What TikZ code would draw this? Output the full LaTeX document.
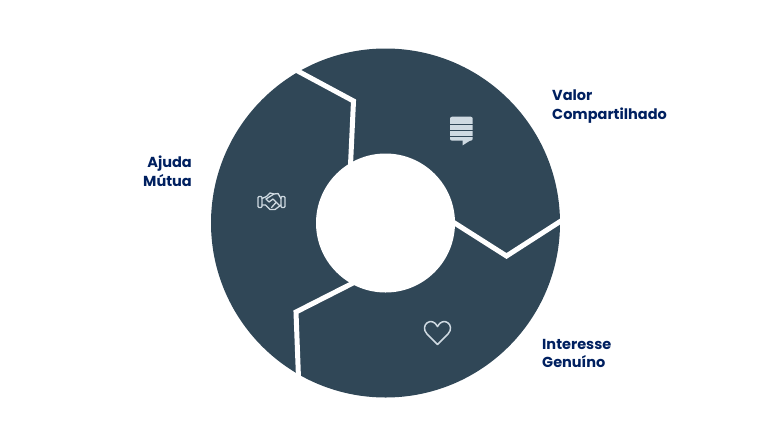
\documentclass[tikz,border=0pt]{standalone}
\usepackage{fontspec}
\usepackage{xcolor}
\setmainfont{Poppins}
\definecolor{ringblue}{HTML}{304757}
\definecolor{labelblue}{HTML}{002060}
\definecolor{iconpale}{HTML}{CFDAE2}
\def\outercircle{(385.5,223) circle (174.5)}
\def\innercircle{(385.5,223) circle (69.5)}
\tikzset{
  cycleword/.style={text=labelblue,font=\bfseries\fontsize{14.5}{18.6}\selectfont,inner sep=0pt},
  seam/.style={white,line width=5pt,miter limit=10},
  iconline/.style={iconpale,line width=1.3pt,line join=round,line cap=round}
}
\begin{document}
\begin{tikzpicture}[x=1pt,y=-1pt]
    \useasboundingbox (0,0) rectangle (768,432);
    \fill[ringblue] \outercircle;
    \fill[white] \innercircle;
    % seams between the three arrows
    \draw[seam] (294,69) -- (353.5,101) -- (350.5,165);
    \draw[seam] (453,222) -- (506.5,256) -- (564,219);
    \draw[seam] (355,282) -- (296,312) -- (298.5,378);
    % chat icon
    \fill[iconpale,rounded corners=2pt] (450,116.7) rectangle (472.7,140.7);
    \fill[iconpale] (462.7,140) -- (471,140) -- (462.7,145.3) -- cycle;
    \foreach \y in {124.3,130,136}
      \draw[ringblue,line width=0.9pt] (449,\y) -- (474,\y);
    % handshake icon
    \draw[iconline,rounded corners=1pt] (258,196.5) rectangle (262,207.5);
    \draw[iconline,rounded corners=1pt] (281,196.5) rectangle (285,207.5);
    \draw[iconline] (262,198.5) -- (266.5,196.5) -- (270,193) -- (274,194) -- (278,193.5) -- (281,198.5);
    \draw[iconline] (262,205) -- (265.5,205) -- (270,209.5) -- (275,209.5) -- (281,205);
    \draw[iconline] (274,194) -- (266,199) -- (269,202) -- (273,199) -- (279.5,205.5);
    \draw[iconline] (276,202.5) -- (271.5,207.5);
    % heart icon
    \draw[iconline,line width=1.5pt] (437.5,344.5) -- (427,334)
      .. controls (419,325) and (432,315.5) .. (437.5,326.5)
      .. controls (443,315.5) and (456,325) .. (448,334) -- cycle;
    \node[cycleword,align=left,anchor=north west] (valor) at (552,90) {Valor\\Compartilhado};
    \node[cycleword,align=left,anchor=north west] (interesse) at (542,339) {Interesse\\Genuíno};
    \node[cycleword,align=right,anchor=north east] (ajuda) at (192,156) {Ajuda\\Mútua};
\end{tikzpicture}
\end{document}
